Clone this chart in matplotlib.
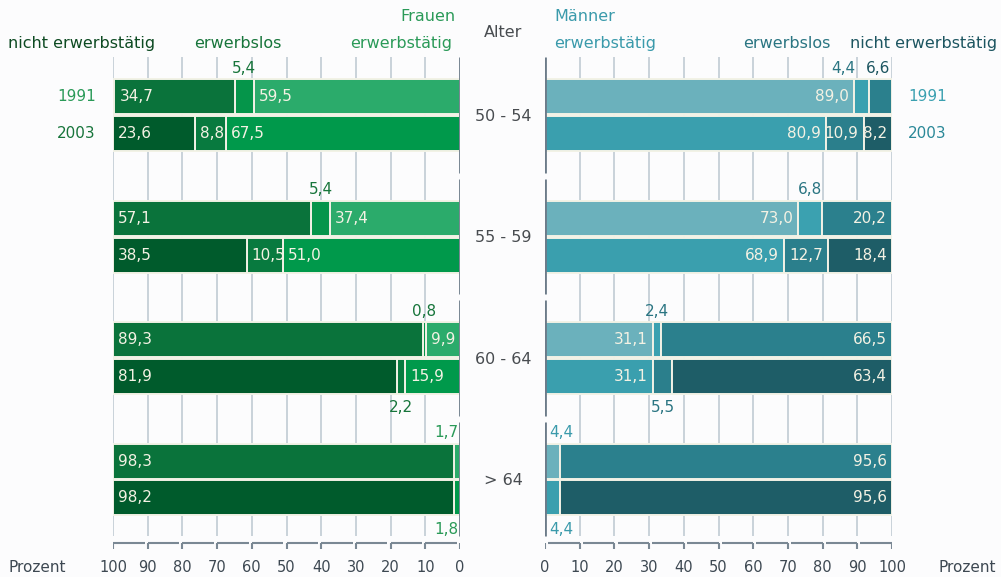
import matplotlib
matplotlib.use("Agg")
import matplotlib.pyplot as plt

# ---------------- data ----------------
ages = ["50 - 54", "55 - 59", "60 - 64", "> 64"]
years = ["1991", "2003"]

w_nicht_1991 = [34.7, 57.1, 89.3, 98.3]
w_los_1991 = [5.4, 5.4, 0.8, 0.0]
w_taetig_1991 = [59.5, 37.4, 9.9, 1.7]
w_nicht_2003 = [23.6, 38.5, 81.9, 98.2]
w_los_2003 = [8.8, 10.5, 2.2, 0.0]
w_taetig_2003 = [67.5, 51.0, 15.9, 1.8]

m_taetig_1991 = [89.0, 73.0, 31.1, 4.4]
m_los_1991 = [4.4, 6.8, 2.4, 0.0]
m_nicht_1991 = [6.6, 20.2, 66.5, 95.6]
m_taetig_2003 = [80.9, 68.9, 31.1, 4.4]
m_los_2003 = [10.9, 12.7, 5.5, 0.0]
m_nicht_2003 = [8.2, 18.4, 63.4, 95.6]

ticks = list(range(0, 101, 10))
tick_labels = [str(t) for t in ticks]
unit_label = "Prozent"
age_title = "Alter"
women_title = "Frauen"
men_title = "Männer"
cat_nicht = "nicht erwerbstätig"
cat_los = "erwerbslos"
cat_taetig = "erwerbstätig"

# ---------------- style / layout ----------------
W, H = 1001, 577
BG = "#fcfcfd"
EDGE = "#f2f2e6"
IN_TXT = "#f4f2e4"
GRID = "#c9d2da"
ZERO = "#6c7b89"
BRACKET = "#7a8894"
TICK_TXT = "#3d4852"
AGE_TXT = "#484c50"

W_X0, W_X1 = 113, 460
M_X0, M_X1 = 545, 892
GROUP_Y0, GROUP_STEP, BAR_OFF, BAR_H = 115.3, 121.4, 18.4, 35
GRID_TOP, GRID_BOT = 57, 536
BR_Y, BR_TICK = 543, 549
TICK_Y = 568

W_COL = {"1991": ["#2bab6b", "#05954a", "#0a733b"],
         "2003": ["#00994b", "#087a3f", "#005b2c"]}
M_COL = {"1991": ["#6bb1bc", "#3ba1b0", "#2b808d"],
         "2003": ["#3a9fae", "#2b7f8c", "#1e5d67"]}
W_HEAD = {"nicht": "#0d4a22", "los": "#17753b", "taetig": "#2a9a58"}
M_HEAD = {"nicht": "#1c5560", "los": "#2a7582", "taetig": "#3a9aab"}
W_YEAR = ["#2a9a58", "#17753b"]
M_YEAR = ["#3aa0b0", "#2a8898"]

FS_VAL = 11
FS_HEAD = 11.5

plt.rcParams["font.family"] = ["DejaVu Sans"]

fig = plt.figure(figsize=(W / 100, H / 100), dpi=100, facecolor=BG)
renderer = fig.canvas.get_renderer()


def make_axes(x0, x1, lim):
    ax = fig.add_axes([x0 / W, 0, (x1 - x0) / W, 1])
    ax.set_xlim(*lim)
    ax.set_ylim(H, 0)
    ax.axis("off")
    ax.patch.set_alpha(0)
    return ax


axW = make_axes(W_X0, W_X1, (100, 0))
axM = make_axes(M_X0, M_X1, (0, 100))

axT = fig.add_axes([0, 0, 1, 1])
axT.set_xlim(0, W)
axT.set_ylim(H, 0)
axT.axis("off")
axT.patch.set_alpha(0)
axT.set_zorder(10)


def fmt(v):
    return f"{v:.1f}".replace(".", ",")


def bar_y(i, j):
    return GROUP_Y0 + i * GROUP_STEP + (2 * j - 1) * BAR_OFF


def data_to_px(ax, x):
    return ax.transData.transform((x, 0))[0]


def draw_side(ax, rows, cols, out_cols, ha, dx, lo_px, hi_px):
    for j, yr in enumerate(years):
        for i in range(len(ages)):
            y = bar_y(i, j)
            left = 0.0
            outside = []
            for k, vals in enumerate(rows[yr]):
                v = vals[i]
                if v > 0:
                    ax.barh(y, v, left=left, height=BAR_H, color=cols[yr][k],
                            edgecolor=EDGE, linewidth=1.4, zorder=3)
                    if v >= 7:
                        ax.annotate(fmt(v), (left + v, y), xytext=(dx, 0),
                                    textcoords="offset pixels", ha=ha, va="center",
                                    color=IN_TXT, fontsize=FS_VAL, zorder=5)
                    else:
                        c = (data_to_px(ax, left) + data_to_px(ax, left + v)) / 2
                        outside.append([fmt(v), c, out_cols[k]])
                left += v
            if not outside:
                continue
            ty = y - BAR_H / 2 - 11 if j == 0 else y + BAR_H / 2 + 14
            items = []
            for txt, c, col in outside:
                t = axT.text(c, ty, txt, ha="center", va="center", color=col,
                             fontsize=FS_VAL, zorder=6)
                wpx = t.get_window_extent(renderer).width
                items.append([t, c, wpx])
            items.sort(key=lambda it: it[1])
            for it in items:
                t, c, wpx = it
                c = min(c, hi_px - 2 - wpx / 2)
                c = max(c, lo_px + 4 + wpx / 2)
                it[1] = c
            for k in range(len(items) - 2, -1, -1):
                right_lim = items[k + 1][1] - items[k + 1][2] / 2 - 10
                if items[k][1] + items[k][2] / 2 > right_lim:
                    items[k][1] = right_lim - items[k][2] / 2
            for t, c, wpx in items:
                t.set_x(c)


def draw_frame(ax):
    gaps = [GROUP_Y0 + (i + 0.5) * GROUP_STEP for i in range(len(ages) - 1)]
    for t in ticks[1:]:
        ax.plot([t, t], [GRID_TOP, GRID_BOT], color=GRID, lw=1.4, zorder=1,
                solid_capstyle="butt")
    bounds = [GRID_TOP] + [v for g in gaps for v in (g - 3, g + 3)] + [GRID_BOT]
    for a, b in zip(bounds[0::2], bounds[1::2]):
        ax.plot([0, 0], [a, b], color=ZERO, lw=2, zorder=4, solid_capstyle="butt")
    for k in range(len(ticks) - 1):
        ax.plot([ticks[k] + 0.9, ticks[k + 1]], [BR_Y, BR_Y], color=BRACKET,
                lw=1.5, zorder=2, solid_capstyle="butt")
    for t, lab in zip(ticks, tick_labels):
        ax.plot([t, t], [BR_Y, BR_TICK], color=BRACKET, lw=1.5, zorder=2,
                solid_capstyle="butt")
        ax.text(t, TICK_Y, lab, ha="center", va="center", color=TICK_TXT,
                fontsize=10.5)


draw_frame(axW)
draw_frame(axM)

w_rows = {"1991": [w_taetig_1991, w_los_1991, w_nicht_1991],
          "2003": [w_taetig_2003, w_los_2003, w_nicht_2003]}
m_rows = {"1991": [m_taetig_1991, m_los_1991, m_nicht_1991],
          "2003": [m_taetig_2003, m_los_2003, m_nicht_2003]}

draw_side(axW, w_rows, W_COL, [W_HEAD["taetig"], W_HEAD["los"], W_HEAD["nicht"]],
          "left", 5, W_X0, W_X1)
draw_side(axM, m_rows, M_COL, [M_HEAD["taetig"], M_HEAD["los"], M_HEAD["nicht"]],
          "right", -5, M_X0, M_X1)

# ---------------- headers / labels ----------------
axT.text(455, 21, women_title, ha="right", va="baseline", color=W_HEAD["taetig"], fontsize=FS_HEAD)
axT.text(8, 48, cat_nicht, ha="left", va="baseline", color=W_HEAD["nicht"], fontsize=FS_HEAD)
axT.text(238, 48, cat_los, ha="center", va="baseline", color=W_HEAD["los"], fontsize=FS_HEAD)
axT.text(452, 48, cat_taetig, ha="right", va="baseline", color=W_HEAD["taetig"], fontsize=FS_HEAD)

axT.text(503, 37, age_title, ha="center", va="baseline", color=AGE_TXT, fontsize=FS_HEAD)

axT.text(554, 21, men_title, ha="left", va="baseline", color=M_HEAD["taetig"], fontsize=FS_HEAD)
axT.text(554, 48, cat_taetig, ha="left", va="baseline", color=M_HEAD["taetig"], fontsize=FS_HEAD)
axT.text(830, 48, cat_los, ha="right", va="baseline", color=M_HEAD["los"], fontsize=FS_HEAD)
axT.text(997, 48, cat_nicht, ha="right", va="baseline", color=M_HEAD["nicht"], fontsize=FS_HEAD)

for j, yr in enumerate(years):
    y = bar_y(0, j)
    axT.text(96, y, yr, ha="right", va="center", color=W_YEAR[j], fontsize=FS_VAL)
    axT.text(908, y, yr, ha="left", va="center", color=M_YEAR[j], fontsize=FS_VAL)

for i, a in enumerate(ages):
    yc = GROUP_Y0 + i * GROUP_STEP + 1
    axT.text(503, yc, a, ha="center", va="center", color=AGE_TXT, fontsize=FS_HEAD)

axT.text(8, TICK_Y, unit_label, ha="left", va="center", color=TICK_TXT, fontsize=11)
axT.text(996, TICK_Y, unit_label, ha="right", va="center", color=TICK_TXT, fontsize=11)

fig.savefig("out.png", dpi=100, facecolor=BG)
